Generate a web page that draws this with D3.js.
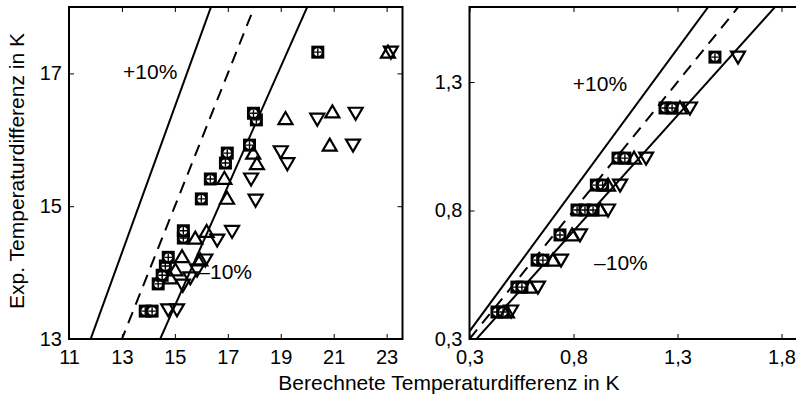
<!DOCTYPE html>
<html>
<head>
<meta charset="utf-8">
<script src="https://cdn.jsdelivr.net/npm/d3@7"></script>
<style>
  body { margin: 0; background: #fff; }
  svg text { font-family: "Liberation Sans", Arial, sans-serif; fill: #000; }
</style>
</head>
<body>
<svg id="chart"></svg>
<script>
// left panel (x, y) pairs
const leftSquares = [[13.88,13.42],[14.14,13.42],[14.37,13.83],[14.52,13.96],[14.64,14.10],[14.75,14.23],
  [15.32,14.52],[15.32,14.63],[16.0,15.11],[16.34,15.41],[16.91,15.65],[16.98,15.80],
  [17.82,15.92],[18.08,16.30],[17.97,16.40],[20.4,17.32]];
const leftUp = [[14.83,13.92],[15.02,14.04],[15.27,14.24],[15.77,14.52],[15.96,14.19],[16.2,14.62],
  [16.87,15.42],[16.97,15.12],[17.96,15.80],[18.1,15.64],[19.18,16.32],[20.85,15.92],
  [20.95,16.42],[23.05,17.32]];
const leftDown = [[14.75,13.44],[15.08,13.44],[15.3,13.81],[15.58,13.92],[15.84,14.04],[16.15,14.19],
  [16.6,14.49],[17.16,14.62],[17.88,15.41],[18.05,15.09],[19.0,15.82],[19.25,15.64],
  [20.38,16.31],[21.73,15.92],[21.83,16.40],[23.16,17.32]];

// right panel (x, y) pairs
const rightSquares = [[0.432,0.405],[0.461,0.405],[0.528,0.502],[0.552,0.502],[0.625,0.607],[0.653,0.607],
  [0.735,0.705],[0.817,0.802],[0.855,0.802],[0.894,0.802],[0.91,0.899],[0.94,0.899],
  [1.014,1.004],[1.047,1.004],[1.24,1.199],[1.274,1.199],[1.48,1.397]];
const rightUp = [[0.48,0.405],[0.591,0.502],[0.701,0.607],[0.793,0.705],[0.93,0.802],[0.966,0.899],
  [1.091,1.004],[1.312,1.199]];
const rightDown = [[0.5,0.409],[0.629,0.502],[0.74,0.607],[0.831,0.705],[0.966,0.802],[1.024,0.899],
  [1.149,1.004],[1.36,1.199],[1.591,1.397]];

const leftXTicks = [11, 13, 15, 17, 19, 21, 23];
const leftYTicks = [13, 15, 17];
const rightXTicks = [0.3, 0.8, 1.3, 1.8];
const rightYTicks = [0.3, 0.8, 1.3];
const factors = [1.1, 1.0, 0.9];

const width = 796, height = 401;
const svg = d3.select('#chart').attr('width', width).attr('height', height);

const fmt = d => String(d).replace('.', ',');

const panels = [
  { id: 'l', xDomain: [11, 23.6], xRange: [69, 402.5], yDomain: [13, 18], yRange: [339, 7],
    xTicks: leftXTicks, yTicks: leftYTicks, squares: leftSquares, up: leftUp, down: leftDown,
    plus: [14.07, 17.02], minus: [16.9, 14.02] },
  { id: 'r', xDomain: [0.3, 1.9], xRange: [469.5, 802.3], yDomain: [0.3, 1.592], yRange: [339, 7],
    xTicks: rightXTicks, yTicks: rightYTicks, squares: rightSquares, up: rightUp, down: rightDown,
    plus: [0.927, 1.292], minus: [1.028, 0.596] }
];

panels.forEach(p => {
  const x = d3.scaleLinear().domain(p.xDomain).range(p.xRange);
  const y = d3.scaleLinear().domain(p.yDomain).range(p.yRange);
  const [x0, x1] = p.xRange, [y1, y0] = p.yRange;

  svg.append('clipPath').attr('id', 'clip-' + p.id)
    .append('rect').attr('x', x0).attr('y', y0).attr('width', x1 - x0).attr('height', y1 - y0);

  const g = svg.append('g').attr('clip-path', `url(#clip-${p.id})`);

  // reference lines y = f * x
  factors.forEach(f => {
    const xs = [p.xDomain[0], p.xDomain[1]];
    g.append('line')
      .attr('x1', x(xs[0])).attr('y1', y(xs[0] * f))
      .attr('x2', x(xs[1])).attr('y2', y(xs[1] * f))
      .attr('stroke', '#000').attr('stroke-width', 2)
      .attr('stroke-dasharray', f === 1 ? '12,8' : null);
  });

  // square markers with cross-circle
  const sq = g.selectAll('.sq').data(p.squares).join('g')
    .attr('transform', d => `translate(${x(d[0])},${y(d[1])})`);
  sq.append('rect').attr('x', -6.5).attr('y', -6.5).attr('width', 13).attr('height', 13).attr('fill', '#000');
  sq.append('circle').attr('r', 3.8).attr('fill', '#fff');
  sq.append('path').attr('d', 'M-3.8,0H3.8M0,-3.8V3.8').attr('stroke', '#000').attr('stroke-width', 1.4);

  const tri = (data, dir) => g.selectAll(null).data(data).join('path')
    .attr('transform', d => `translate(${x(d[0])},${y(d[1])})`)
    .attr('d', dir > 0 ? 'M0,-6.5L7,5.5L-7,5.5Z' : 'M0,6.5L7,-5.5L-7,-5.5Z')
    .attr('fill', 'none').attr('stroke', '#000').attr('stroke-width', 2.2);
  tri(p.up, 1);
  tri(p.down, -1);

  // annotations
  svg.append('text').attr('x', x(p.plus[0])).attr('y', y(p.plus[1])).attr('dy', '0.35em')
    .attr('text-anchor', 'middle').attr('font-size', 21).text('+10%');
  svg.append('text').attr('x', x(p.minus[0])).attr('y', y(p.minus[1])).attr('dy', '0.35em')
    .attr('text-anchor', 'middle').attr('font-size', 21).text('\u201310%');

  // axes (inner ticks on all sides)
  const ax = svg.append('g');
  ax.append('rect').attr('x', x0).attr('y', y0).attr('width', x1 - x0).attr('height', y1 - y0)
    .attr('fill', 'none').attr('stroke', '#000').attr('stroke-width', 2);

  const bottom = ax.append('g').attr('transform', `translate(0,${y1})`)
    .call(d3.axisBottom(x).tickValues(p.xTicks).tickFormat(fmt).tickSizeInner(-5).tickSizeOuter(0).tickPadding(11));
  const top = ax.append('g').attr('transform', `translate(0,${y0})`)
    .call(d3.axisTop(x).tickValues(p.xTicks).tickFormat('').tickSizeInner(-5).tickSizeOuter(0));
  const left = ax.append('g').attr('transform', `translate(${x0},0)`)
    .call(d3.axisLeft(y).tickValues(p.yTicks).tickFormat(fmt).tickSizeInner(-5).tickSizeOuter(0).tickPadding(7));
  const right = ax.append('g').attr('transform', `translate(${x1},0)`)
    .call(d3.axisRight(y).tickValues(p.yTicks).tickFormat('').tickSizeInner(-5).tickSizeOuter(0));
  [bottom, top, left, right].forEach(a => {
    a.select('.domain').remove();
    a.selectAll('line').attr('stroke', '#000').attr('stroke-width', 1);
    a.selectAll('text').attr('font-size', 20).attr('font-family', '"Liberation Sans", Arial, sans-serif');
  });
});

svg.append('text').attr('x', 449).attr('y', 390).attr('text-anchor', 'middle')
  .attr('font-size', 21).text('Berechnete Temperaturdifferenz in K');
svg.append('text').attr('transform', 'translate(24,171) rotate(-90)').attr('text-anchor', 'middle')
  .attr('font-size', 21).text('Exp. Temperaturdifferenz in K');
</script>
</body>
</html>
